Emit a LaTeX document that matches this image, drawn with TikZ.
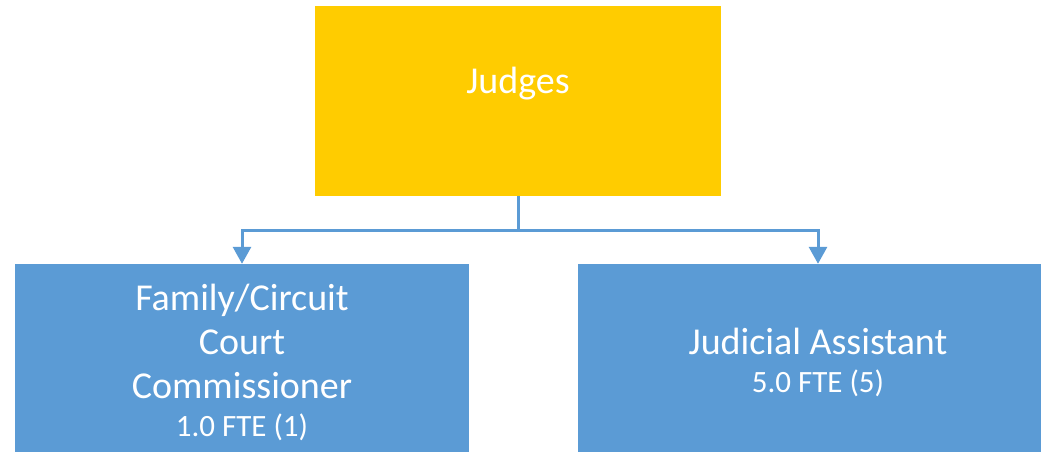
\documentclass[tikz,border=0pt]{standalone}
\usepackage{fontspec}
\setmainfont{Carlito}
\usetikzlibrary{arrows.meta}
\definecolor{judgegold}{HTML}{FFCC00}
\definecolor{staffblue}{HTML}{5B9BD5}
\newcommand{\fte}[1]{{\fontsize{31}{34}\selectfont #1}}
\tikzset{
  head/.style={rectangle, fill=judgegold, text=white, inner sep=0pt, minimum width=406pt, minimum height=190pt, font=\fontsize{38}{44}\selectfont},
  staff/.style={rectangle, fill=staffblue, text=white, inner sep=0pt, minimum height=196pt, align=center, font=\fontsize{38}{44}\selectfont},
  link/.style={draw=staffblue, line width=3pt}
}
\tikzstyle{arrow} = [link, -{Triangle[width=18pt,length=17pt]}]

\begin{document}
\begin{tikzpicture}[x=1pt,y=-1pt]
    \useasboundingbox (0,0) rectangle (1041,452);
    \clip (0,0) rectangle (1041,452);
    \node [head, text height=25pt, text depth=41pt] (judges) at (518,101) {Judges};
    \node [staff, minimum width=454pt] (commish) at (242,362) {Family/Circuit\\Court\\Commissioner\\[-6pt]\fte{1.0 FTE (1)}};
    \node [staff, minimum width=480pt] (assist) at (818,362) {Judicial Assistant\\[-6pt]\fte{5.0 FTE (5)}};

    \draw [link] (judges.south) -- ++(0,34) coordinate (split);
    \draw [arrow] (split) -| (commish.north);
    \draw [arrow] (split) -| (assist.north);
\end{tikzpicture}
\end{document}
